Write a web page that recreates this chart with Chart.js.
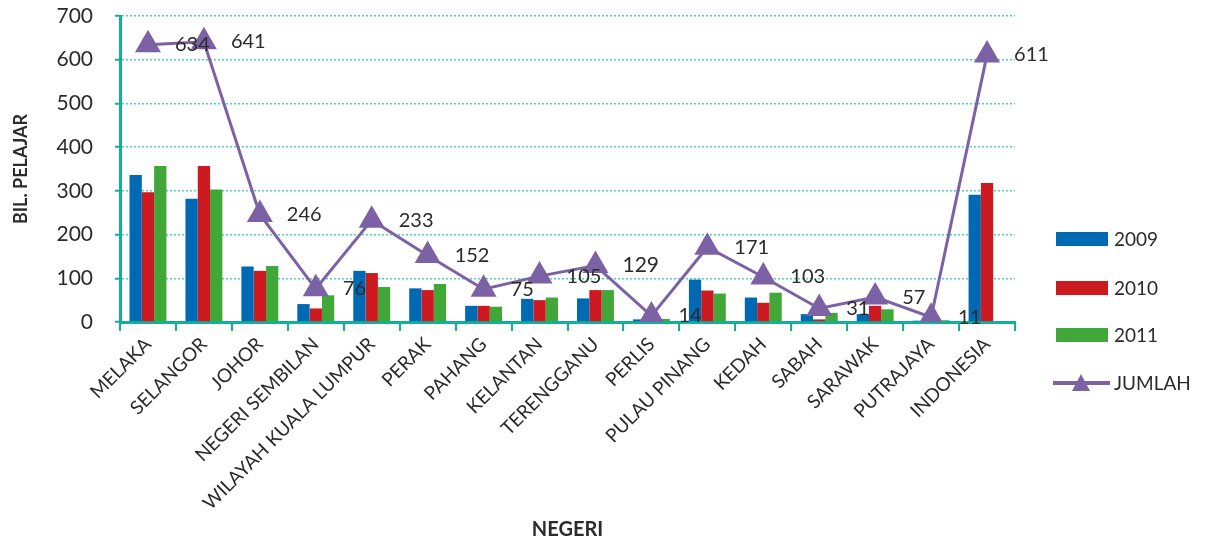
<!DOCTYPE html>
<html>
<head>
<meta charset="utf-8">
<script src="https://cdn.jsdelivr.net/npm/chart.js@4/dist/chart.umd.min.js"></script>
<style>
  html, body { margin: 0; padding: 0; background: #fff; }
  #wrap { width: 1205px; height: 544px; }
</style>
</head>
<body>
<div id="wrap"><canvas id="chartNegeri" width="1205" height="544"></canvas></div>
<script>
// --- data ---
const negeri = ['MELAKA', 'SELANGOR', 'JOHOR', 'NEGERI SEMBILAN', 'WILAYAH KUALA LUMPUR', 'PERAK', 'PAHANG',
    'KELANTAN', 'TERENGGANU', 'PERLIS', 'PULAU PINANG', 'KEDAH', 'SABAH', 'SARAWAK', 'PUTRAJAYA', 'INDONESIA'];
const tahun2009 = [336, 282, 127, 41, 117, 77, 37, 53, 54, 6, 97, 56, 18, 18, 3, 291];
const tahun2010 = [297, 357, 117, 31, 112, 73, 37, 50, 73, 3, 72, 44, 6, 37, 4, 318];
const tahun2011 = [357, 303, 128, 61, 80, 87, 35, 56, 73, 7, 65, 67, 21, 29, 4, 0];
const jumlah = [634, 641, 246, 76, 233, 152, 75, 105, 129, 14, 171, 103, 31, 57, 11, 611];
const yTicks = [0, 100, 200, 300, 400, 500, 600, 700];

const FONT = "'Lato', 'Open Sans', sans-serif";
const TEAL = '#12b09c';
const TEKS = '#2b2b2b';

// label nilai jumlah di kanan setiap titik
const labelJumlah = {
    id: 'labelJumlah',
    afterDatasetsDraw(chart) {
        const idx = chart.data.datasets.findIndex(d => d.type === 'line');
        const meta = chart.getDatasetMeta(idx);
        const ctx = chart.ctx;
        ctx.save();
        ctx.fillStyle = TEKS;
        ctx.textAlign = 'left';
        ctx.textBaseline = 'middle';
        meta.data.forEach((pt, i) => {
            ctx.font = (i === 8 ? '21px ' : '20px ') + FONT;
            ctx.fillText(String(jumlah[i]), pt.x + 27, pt.y);
        });
        ctx.restore();
    }
};

// legenda di kanan (digambar manual supaya bentuknya sama dengan asal)
const legendaKanan = {
    id: 'legendaKanan',
    afterDraw(chart) {
        const ctx = chart.ctx;
        const x0 = 1056, ys = [239, 288, 335, 383];
        ctx.save();
        ctx.font = '19px ' + FONT;
        ctx.textBaseline = 'middle';
        ctx.textAlign = 'left';
        chart.data.datasets.forEach((ds, i) => {
            const y = ys[i];
            if (ds.type === 'line') {
                ctx.strokeStyle = ds.borderColor;
                ctx.lineWidth = 4;
                ctx.beginPath(); ctx.moveTo(x0 - 3, y); ctx.lineTo(x0 + 54, y); ctx.stroke();
                ctx.fillStyle = ds.backgroundColor;
                ctx.beginPath(); ctx.moveTo(x0 + 25, y - 9); ctx.lineTo(x0 + 34, y + 8); ctx.lineTo(x0 + 16, y + 8); ctx.closePath(); ctx.fill();
            } else {
                ctx.fillStyle = ds.backgroundColor;
                ctx.fillRect(x0, y - 7, 52, 14);
            }
            ctx.fillStyle = TEKS;
            ctx.fillText(ds.label, x0 + 58, y + 1);
        });
        ctx.restore();
    }
};

new Chart(document.getElementById('chartNegeri').getContext('2d'), {
    data: {
        labels: negeri,
        datasets: [
            { type: 'bar', label: '2009', data: tahun2009, backgroundColor: '#0069b4', order: 2 },
            { type: 'bar', label: '2010', data: tahun2010, backgroundColor: '#cd1a20', order: 2 },
            { type: 'bar', label: '2011', data: tahun2011, backgroundColor: '#41a738', order: 2 },
            {
                type: 'line', label: 'JUMLAH', data: jumlah, order: 1,
                borderColor: '#7d61a5', backgroundColor: '#7d61a5', borderWidth: 3,
                pointStyle: 'triangle', pointRadius: 12, pointHoverRadius: 12, tension: 0
            }
        ]
    },
    options: {
        responsive: false,
        animation: false,
        layout: { padding: { top: 16, right: 190, left: 0, bottom: 0 } },
        datasets: { bar: { barPercentage: 1.0, categoryPercentage: 0.66 } },
        plugins: { legend: { display: false }, tooltip: { enabled: false } },
        scales: {
            x: {
                offset: true,
                grid: { display: true, drawOnChartArea: false, drawTicks: true, offset: true, tickLength: 9, color: TEAL, lineWidth: 2 },
                border: { display: true, color: TEAL, width: 3 },
                ticks: { color: TEKS, font: { family: FONT, size: 19 }, minRotation: 45, maxRotation: 45, autoSkip: false, padding: 2 },
                title: { display: true, text: 'NEGERI', color: TEKS, font: { family: FONT, size: 20, weight: 'bold' }, padding: { top: 0, bottom: 2 } },
                afterFit(scale) { scale.height = 222; scale.paddingLeft = 0; scale.paddingRight = 0; }
            },
            y: {
                min: 0, max: 700,
                afterBuildTicks(scale) { scale.ticks = yTicks.map(v => ({ value: v })); },
                grid: { color: '#4fcfbd', lineWidth: 1.5, tickBorderDash: [], tickLength: 5, tickColor: TEAL, tickWidth: 2 },
                border: { display: true, color: TEAL, width: 3, dash: [2, 2] },
                ticks: { color: TEKS, font: { family: FONT, size: 21 }, padding: 22 },
                title: { display: true, text: 'BIL. PELAJAR', color: TEKS, font: { family: FONT, size: 18, weight: 'bold' }, padding: { top: 10, bottom: 0 } },
                afterFit(scale) { scale.width = 120; scale.paddingTop = 0; scale.paddingBottom = 0; }
            }
        }
    },
    plugins: [labelJumlah, legendaKanan]
});
</script>
</body>
</html>
